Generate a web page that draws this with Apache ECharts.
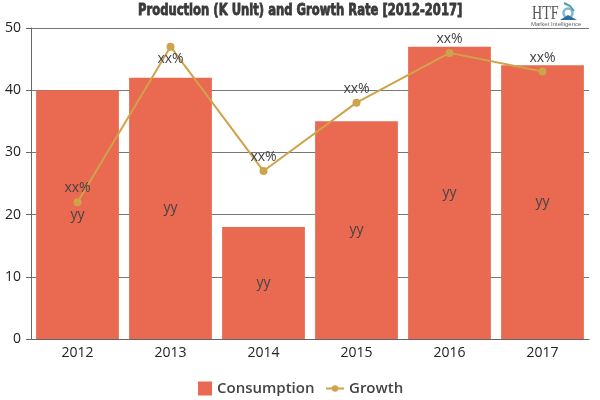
<!DOCTYPE html>
<html>
<head>
<meta charset="utf-8">
<style>html,body{margin:0;padding:0;background:#fff}#chart{width:600px;height:400px}</style>
<script src="https://cdn.jsdelivr.net/npm/echarts@6/dist/echarts.min.js"></script>
</head>
<body>
<div id="chart"></div>
<script>
var years = ['2012', '2013', '2014', '2015', '2016', '2017'];
var consumption = [40, 42, 18, 35, 47, 44];
var growth = [22, 47, 27, 38, 46, 43];
var yTicks = [0, 10, 20, 30, 40, 50];
var chartTitle = 'Production (K Unit) and Growth Rate [2012-2017]';

var chart = echarts.init(document.getElementById('chart'), null, { renderer: 'canvas' });
chart.setOption({
    animation: false,
    grid: { left: 31, right: 11, top: 28, bottom: 61 },
    legend: [
        {
            left: 193,
            top: 376,
            itemWidth: 14,
            itemHeight: 14,
            icon: 'rect',
            textStyle: { fontFamily: 'Open Sans', fontSize: 15, color: '#444', fontWeight: 600 },
            data: ['Consumption']
        },
        {
            left: 320,
            top: 376,
            itemWidth: 18,
            itemHeight: 8,
            textStyle: { fontFamily: 'Open Sans', fontSize: 15, color: '#444', fontWeight: 600 },
            data: ['Growth']
        }
    ],
    xAxis: {
        type: 'category',
        data: years,
        axisLine: { lineStyle: { color: '#666' } },
        axisTick: { alignWithLabel: true, length: 5, lineStyle: { color: '#666' } },
        axisLabel: { fontFamily: 'Open Sans', fontSize: 14, color: '#222', margin: 7 }
    },
    yAxis: {
        type: 'value',
        min: yTicks[0],
        max: yTicks[yTicks.length - 1],
        interval: 10,
        axisLine: { show: true, lineStyle: { color: '#666' } },
        axisTick: { show: true, length: 5, lineStyle: { color: '#666' } },
        axisLabel: { fontFamily: 'Open Sans', fontSize: 14, color: '#222', margin: 10 },
        splitLine: { lineStyle: { color: '#777' } }
    },
    series: [
        {
            name: 'Consumption',
            type: 'bar',
            data: consumption,
            barCategoryGap: '11%',
            itemStyle: { color: '#e96a50' },
            label: {
                show: true,
                position: 'inside',
                formatter: 'yy',
                fontFamily: 'Open Sans',
                fontSize: 14,
                color: '#444'
            }
        },
        {
            name: 'Growth',
            type: 'line',
            // the 2013 label sits under its point in the original
            data: growth.map(function (v, i) {
                return i === 1 ? { value: v, label: { position: 'bottom', distance: 1 } } : v;
            }),
            symbol: 'circle',
            symbolSize: 8,
            itemStyle: { color: '#cfa349' },
            lineStyle: { color: '#cfa349', width: 2 },
            label: {
                show: true,
                position: 'top',
                distance: 3,
                formatter: 'xx%',
                fontFamily: 'Open Sans',
                fontSize: 14,
                color: '#444'
            }
        }
    ],
    graphic: [
        // title is squeezed to get the heavy condensed look of the original
        {
            type: 'text', x: 138, y: 3, scaleX: 0.805,
            style: {
                text: chartTitle, fontFamily: 'DejaVu Sans Condensed', fontSize: 16, fontWeight: 'bold',
                fill: '#3a3a3a', stroke: '#3a3a3a', lineWidth: 0.8
            }
        },
        /* logo */
        {
            type: 'text', x: 532, y: 5, scaleX: 0.74,
            style: { text: 'HTF', fontFamily: 'Liberation Serif', fontSize: 19, fill: '#555' }
        },
        {
            type: 'text', x: 531, y: 21,
            style: { text: 'Market Intelligence', fontFamily: 'Liberation Sans', fontSize: 6, fill: '#666' }
        },
        {
            type: 'circle', shape: { cx: 568, cy: 13, r: 4.5 },
            style: { fill: 'none', stroke: '#7fb6d2', lineWidth: 2.5 }
        },
        {
            type: 'polygon', shape: { points: [[560, 20], [568, 15], [577, 20]] },
            style: { fill: '#2f6f9f' }
        },
        {
            type: 'polyline', shape: { points: [[564, 3], [570, 6], [574, 11]] },
            style: { fill: 'none', stroke: '#4f9fa8', lineWidth: 2 }
        }
    ]
});
</script>
</body>
</html>
